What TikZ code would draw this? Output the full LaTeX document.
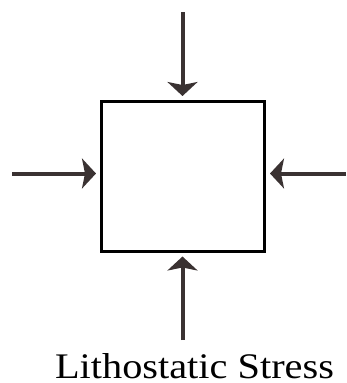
\documentclass[tikz,border=0pt]{standalone}
\usepackage{fontspec}
\setmainfont{Liberation Serif}
\usetikzlibrary{arrows.meta}
\definecolor{arrowcol}{HTML}{3A3232}
\begin{document}
\begin{tikzpicture}[x=1pt,y=-1pt,
  block/.style={draw=black,line width=3pt,minimum width=163pt,minimum height=149.5pt,outer sep=0pt,inner sep=0pt},
  force/.style={draw=arrowcol,line width=4pt,-{Stealth[length=14pt,width=30pt,inset=3pt]},shorten >=5.5pt},
  label/.style={font=\fontsize{36}{40}\selectfont,anchor=base,inner sep=0pt,text depth=0pt}]
\useasboundingbox (0,0) rectangle (346,383);
\node[block] (sq) at (183,176.25) {};
\coordinate (t) at (182.5,12);
\coordinate (b) at (182.5,340);
\coordinate (l) at (12,173.5);
\coordinate (r) at (346,173.5);
\draw[force] (t) -- (t |- sq.north);
\draw[force] (b) -- (b |- sq.south);
\draw[force] (l) -- (l -| sq.west);
\draw[force] (r) -- (r -| sq.east);
\node[label] (cap) at (194.5,378) {\scalebox{1.12}[1]{Lithostatic Stress}};
\end{tikzpicture}
\end{document}
